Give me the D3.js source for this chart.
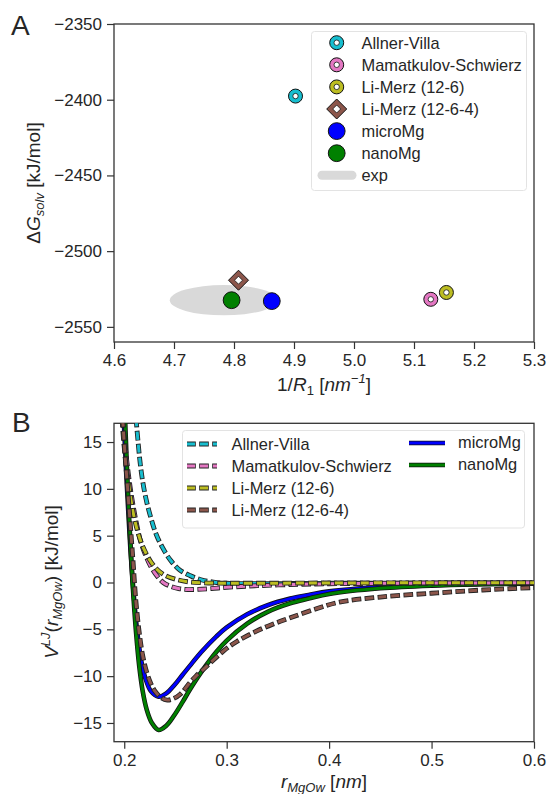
<!DOCTYPE html>
<html>
<head>
<meta charset="utf-8">
<script src="https://cdn.jsdelivr.net/npm/d3@7"></script>
<style>
  body { margin: 0; background: #fff; }
  svg { display: block; font-family: "Liberation Sans", Arial, sans-serif; }
</style>
</head>
<body>
<script>
// panel A data - solvation free energy vs 1/R1
const modelsA = ["Allner-Villa", "Mamatkulov-Schwierz", "Li-Merz (12-6)", "Li-Merz (12-6-4)", "microMg", "nanoMg"];
const invR1 = [4.9025, 5.128, 5.154, 4.8075, 4.863, 4.796];
const dGsolv = [-2397.6, -2531.8, -2527.3, -2519.2, -2533.0, -2532.4];
// experimental range (drawn as an ellipse)
const expX = [4.693, 4.873];
const expY = [-2542.4, -2522.4];
const xTicksA = [4.6, 4.7, 4.8, 4.9, 5.0, 5.1, 5.2, 5.3];
const yTicksA = [-2550, -2500, -2450, -2400, -2350];

// panel B data - Mg-Ow LJ potentials
const allnerR = [0.2115, 0.2135, 0.2155, 0.218, 0.2215, 0.226, 0.231, 0.237, 0.245, 0.254, 0.264, 0.275, 0.287, 0.30, 0.33, 0.40, 0.50, 0.60];
const allnerV = [17.5, 15, 12.8, 10.8, 8.8, 6.9, 5.2, 3.8, 2.4, 1.35, 0.75, 0.3, 0.05, -0.08, -0.12, -0.08, -0.05, -0.03];
const mamatR = [0.1985, 0.2005, 0.203, 0.206, 0.209, 0.2125, 0.216, 0.2205, 0.226, 0.232, 0.238, 0.245, 0.253, 0.262, 0.272, 0.285, 0.30, 0.33, 0.37, 0.40, 0.45, 0.50, 0.60];
const mamatV = [17.5, 15, 12.5, 10, 8, 6.0, 4.4, 3.0, 1.7, 0.7, 0.0, -0.4, -0.65, -0.75, -0.73, -0.65, -0.52, -0.34, -0.2, -0.14, -0.09, -0.06, -0.03];
const lm126R = [0.1978, 0.1995, 0.202, 0.205, 0.208, 0.2115, 0.2155, 0.22, 0.2255, 0.232, 0.24, 0.25, 0.262, 0.276, 0.29, 0.30, 0.35, 0.40, 0.50, 0.60];
const lm126V = [17.5, 15, 12.4, 10, 7.9, 6.1, 4.6, 3.4, 2.3, 1.4, 0.75, 0.35, 0.08, -0.03, -0.07, -0.08, -0.07, -0.05, -0.03, -0.02];
const lm1264R = [0.1985, 0.2005, 0.203, 0.2055, 0.2085, 0.2113, 0.2147, 0.218, 0.222, 0.226, 0.23, 0.236, 0.242, 0.248, 0.255, 0.264, 0.27, 0.28, 0.297, 0.31, 0.329, 0.345, 0.362, 0.389, 0.41, 0.45, 0.50, 0.55, 0.60];
const lm1264V = [17.5, 14, 10.5, 6.8, 2.4, -1.9, -5.4, -7.8, -9.6, -10.8, -11.6, -12.3, -12.55, -12.4, -11.9, -10.7, -10.0, -9.0, -7.3, -6.3, -5.2, -4.45, -3.77, -2.75, -2.1, -1.55, -1.15, -0.8, -0.55];
const microR = [0.1995, 0.2005, 0.202, 0.204, 0.206, 0.208, 0.2105, 0.2135, 0.217, 0.221, 0.226, 0.2335, 0.241, 0.249, 0.257, 0.264, 0.275, 0.29, 0.30, 0.32, 0.34, 0.362, 0.38, 0.40, 0.45, 0.50, 0.55, 0.60];
const microV = [17.5, 15, 11.5, 7.5, 3.6, 0.5, -2.9, -6.0, -8.6, -10.35, -11.6, -12.2, -11.85, -10.95, -9.85, -8.9, -7.45, -5.75, -4.8, -3.4, -2.43, -1.72, -1.33, -0.95, -0.48, -0.26, -0.15, -0.09];
const nanoR = [0.2008, 0.2015, 0.203, 0.205, 0.207, 0.209, 0.2115, 0.2145, 0.218, 0.222, 0.227, 0.2335, 0.241, 0.249, 0.257, 0.264, 0.275, 0.29, 0.30, 0.32, 0.34, 0.362, 0.38, 0.40, 0.45, 0.50, 0.55, 0.60];
const nanoV = [17.5, 15.5, 11.2, 6.4, 2.1, -1.5, -5.3, -8.8, -11.6, -13.6, -15.0, -15.75, -15.3, -14.15, -12.75, -11.45, -9.6, -7.4, -6.2, -4.4, -3.13, -2.22, -1.72, -1.22, -0.62, -0.33, -0.19, -0.11];
const xTicksB = [0.2, 0.3, 0.4, 0.5, 0.6];
const yTicksB = [-15, -10, -5, 0, 5, 10, 15];

// colours (matplotlib tab palette + pure blue / green)
const colA = ["#17becf", "#e377c2", "#bcbd22", "#8c564b", "#0000ff", "#008000"];
const ink = "#333333";

const svg = d3.select("body").append("svg")
    .attr("width", 548)
    .attr("height", 794);

// scales
const xA = d3.scaleLinear().domain([4.6, 5.3]).range([114, 534]);
const yA = d3.scaleLinear().domain([-2560, -2350]).range([342, 24]);
const xB = d3.scaleLinear().domain([0.19, 0.6]).range([114, 534]);
const yB = d3.scaleLinear().domain([-17, 17]).range([741.7, 423.3]);

// draws frame + left/bottom ticks for a panel
function drawAxes(x, y, xt, yt, xfmt, yfmt) {
    const [x0, x1] = x.range();
    const [y0, y1] = y.range();
    const gx = svg.append("g")
        .attr("transform", `translate(0,${y0})`)
        .call(d3.axisBottom(x).tickValues(xt).tickFormat(xfmt).tickSize(7).tickPadding(5));
    const gy = svg.append("g")
        .attr("transform", `translate(${x0},0)`)
        .call(d3.axisLeft(y).tickValues(yt).tickFormat(yfmt).tickSize(7).tickPadding(5));
    [gx, gy].forEach(g => {
        g.select(".domain").remove();
        g.selectAll(".tick line").attr("stroke", ink).attr("stroke-width", 1.2);
        g.selectAll(".tick text").attr("fill", "#262626").style("font-size", "17px");
    });
    svg.append("rect")
        .attr("x", x0).attr("y", y1)
        .attr("width", x1 - x0).attr("height", y0 - y1)
        .attr("fill", "none")
        .attr("stroke", ink)
        .attr("stroke-width", 1.3);
}

// marker shapes used in panel A (and its legend)
function marker(g, i, cx, cy) {
    const c = colA[i];
    if (i < 3) {
        g.append("circle").attr("cx", cx).attr("cy", cy).attr("r", 7)
            .attr("fill", c).attr("stroke", "#111").attr("stroke-width", 1);
        g.append("circle").attr("cx", cx).attr("cy", cy).attr("r", 2.7)
            .attr("fill", "#fff").attr("stroke", "#111").attr("stroke-width", 0.8);
    } else if (i === 3) {
        const d = 10, s = 4;
        g.append("path")
            .attr("d", `M${cx},${cy - d}L${cx + d},${cy}L${cx},${cy + d}L${cx - d},${cy}Z`)
            .attr("fill", c).attr("stroke", "#111").attr("stroke-width", 1);
        g.append("path")
            .attr("d", `M${cx},${cy - s}L${cx + s},${cy}L${cx},${cy + s}L${cx - s},${cy}Z`)
            .attr("fill", "#fff").attr("stroke", "#111").attr("stroke-width", 0.8);
    } else {
        g.append("circle").attr("cx", cx).attr("cy", cy).attr("r", 8.4)
            .attr("fill", c).attr("stroke", "#111").attr("stroke-width", 1);
    }
}

// ---------- panel A ----------
drawAxes(xA, yA, xTicksA, yTicksA, d3.format(".1f"), d3.format("d"));

svg.append("ellipse")
    .attr("cx", xA((expX[0] + expX[1]) / 2))
    .attr("cy", yA((expY[0] + expY[1]) / 2))
    .attr("rx", (xA(expX[1]) - xA(expX[0])) / 2)
    .attr("ry", (yA(expY[0]) - yA(expY[1])) / 2)
    .attr("fill", "#d9d9d9");

const ptsA = svg.append("g");
invR1.forEach((v, i) => marker(ptsA, i, xA(v), yA(dGsolv[i])));

// legend A
const legA = svg.append("g");
legA.append("rect")
    .attr("x", 311.5).attr("y", 31.5).attr("width", 215).attr("height", 159).attr("rx", 3)
    .attr("fill", "#fff").attr("stroke", "#e3e3e3").attr("stroke-width", 1);
const legLabelsA = modelsA.concat(["exp"]);
legLabelsA.forEach((t, i) => {
    const cy = 42.7 + i * 22.1;
    if (i < 6) marker(legA, i, 336.7, cy);
    else legA.append("line").attr("x1", 322).attr("x2", 352).attr("y1", cy).attr("y2", cy)
        .attr("stroke", "#d9d9d9").attr("stroke-width", 9).attr("stroke-linecap", "round");
    legA.append("text").attr("x", 361.5).attr("y", cy + 5.8)
        .attr("fill", "#262626").style("font-size", "16.4px").text(t);
});

// axis labels A
svg.append("text")
    .attr("transform", "translate(40,183) rotate(-90)")
    .attr("text-anchor", "middle").attr("fill", "#262626").style("font-size", "19px")
    .call(t => {
        t.append("tspan").text("Δ");
        t.append("tspan").style("font-style", "italic").text("G");
        t.append("tspan").style("font-style", "italic").style("font-size", "13px").attr("dy", 4).text("solv");
        t.append("tspan").attr("dy", -4).text(" [kJ/mol]");
    });
svg.append("text")
    .attr("x", 324).attr("y", 391)
    .attr("text-anchor", "middle").attr("fill", "#262626").style("font-size", "19px")
    .call(t => {
        t.append("tspan").text("1/");
        t.append("tspan").style("font-style", "italic").text("R");
        t.append("tspan").style("font-size", "13px").attr("dy", 4).text("1");
        t.append("tspan").attr("dy", -4).text(" [");
        t.append("tspan").style("font-style", "italic").text("nm");
        t.append("tspan").style("font-style", "italic").style("font-size", "13px").attr("dy", -8).text("−1");
        t.append("tspan").attr("dy", 8).text("]");
    });

// ---------- panel B ----------
drawAxes(xB, yB, xTicksB, yTicksB, d3.format(".1f"), d3.format("d"));

svg.append("clipPath").attr("id", "clipB")
    .append("rect").attr("x", 114).attr("y", 423.3).attr("width", 420).attr("height", 318.4);

// centripetal catmull-rom keeps the steep wall and the well smooth
const line = d3.line().x(d => xB(d[0])).y(d => yB(d[1])).curve(d3.curveCatmullRom.alpha(0.5));
const plotB = svg.append("g").attr("clip-path", "url(#clipB)");

// solid curves with a dark edge
const solid = [[microR, microV, colA[4]], [nanoR, nanoV, colA[5]]];
solid.forEach(([r, v, c]) => {
    const pts = r.map((x, i) => [x, v[i]]);
    plotB.append("path").attr("d", line(pts)).attr("fill", "none")
        .attr("stroke", "#111").attr("stroke-width", 4.6);
    plotB.append("path").attr("d", line(pts)).attr("fill", "none")
        .attr("stroke", c).attr("stroke-width", 3);
});

// dashed curves, outlined dashes
const dashed = [[allnerR, allnerV, colA[0]], [mamatR, mamatV, colA[1]], [lm126R, lm126V, colA[2]], [lm1264R, lm1264V, colA[3]]];
dashed.forEach(([r, v, c]) => {
    const pts = r.map((x, i) => [x, v[i]]);
    plotB.append("path").attr("d", line(pts)).attr("fill", "none")
        .attr("stroke", "#222").attr("stroke-width", 4.8)
        .attr("stroke-dasharray", "9.6,3.4").attr("stroke-dashoffset", 0.8);
    plotB.append("path").attr("d", line(pts)).attr("fill", "none")
        .attr("stroke", c).attr("stroke-width", 3)
        .attr("stroke-dasharray", "8,5");
});

// legend B
const legB = svg.append("g");
legB.append("rect")
    .attr("x", 182.5).attr("y", 430.5).attr("width", 342).attr("height", 97.5).attr("rx", 3)
    .attr("fill", "#fff").attr("stroke", "#e3e3e3").attr("stroke-width", 1);
modelsA.slice(0, 4).forEach((t, i) => {
    const cy = 444 + i * 22;
    legB.append("line").attr("x1", 187).attr("x2", 217).attr("y1", cy).attr("y2", cy)
        .attr("stroke", "#222").attr("stroke-width", 4.8)
        .attr("stroke-dasharray", "9.6,3.4").attr("stroke-dashoffset", 0.8);
    legB.append("line").attr("x1", 187).attr("x2", 217).attr("y1", cy).attr("y2", cy)
        .attr("stroke", colA[i]).attr("stroke-width", 3).attr("stroke-dasharray", "8,5");
    legB.append("text").attr("x", 231.5).attr("y", cy + 6)
        .attr("fill", "#262626").style("font-size", "16.4px").text(t);
});
modelsA.slice(4).forEach((t, i) => {
    const cy = 443 + i * 22;
    legB.append("line").attr("x1", 409).attr("x2", 445).attr("y1", cy).attr("y2", cy)
        .attr("stroke", "#111").attr("stroke-width", 4.6);
    legB.append("line").attr("x1", 409).attr("x2", 445).attr("y1", cy).attr("y2", cy)
        .attr("stroke", colA[i + 4]).attr("stroke-width", 3);
    legB.append("text").attr("x", 458).attr("y", cy + 5)
        .attr("fill", "#262626").style("font-size", "16.4px").text(t);
});

// axis labels B
svg.append("text")
    .attr("transform", "translate(58,582) rotate(-90)")
    .attr("text-anchor", "middle").attr("fill", "#262626").style("font-size", "19px")
    .call(t => {
        t.append("tspan").style("font-style", "italic").text("V");
        t.append("tspan").style("font-style", "italic").style("font-size", "13px").attr("dy", -8).text("LJ");
        t.append("tspan").attr("dy", 8).text("(");
        t.append("tspan").style("font-style", "italic").text("r");
        t.append("tspan").style("font-style", "italic").style("font-size", "13px").attr("dy", 4).text("MgOw");
        t.append("tspan").attr("dy", -4).text(") [kJ/mol]");
    });
svg.append("text")
    .attr("x", 324).attr("y", 788)
    .attr("text-anchor", "middle").attr("fill", "#262626").style("font-size", "19px")
    .call(t => {
        t.append("tspan").style("font-style", "italic").text("r");
        t.append("tspan").style("font-style", "italic").style("font-size", "13px").attr("dy", 4).text("MgOw");
        t.append("tspan").attr("dy", -4).text(" [");
        t.append("tspan").style("font-style", "italic").text("nm");
        t.append("tspan").text("]");
    });

// panel letters
svg.append("text").attr("x", 11).attr("y", 35).attr("fill", "#262626").style("font-size", "28px").text("A");
svg.append("text").attr("x", 12).attr("y", 432).attr("fill", "#262626").style("font-size", "28px").text("B");
</script>
</body>
</html>
